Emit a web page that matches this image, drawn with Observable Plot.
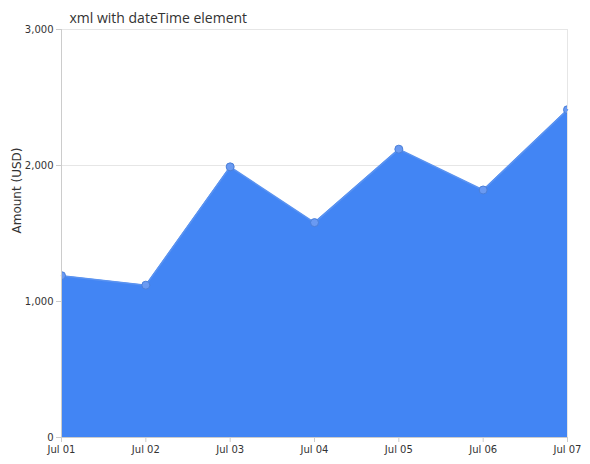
<!DOCTYPE html>
<html>
<head>
<meta charset="utf-8">
<script src="https://cdn.jsdelivr.net/npm/d3@7"></script>
<script src="https://cdn.jsdelivr.net/npm/@observablehq/plot@0.6"></script>
<style>
  html, body { margin: 0; padding: 0; background: #fff; }
  #chart svg { display: block; }
</style>
</head>
<body>
<div id="chart"></div>
<script>
// Daily amounts (USD), one per day in early July
const days = ["2011-07-01", "2011-07-02", "2011-07-03", "2011-07-04", "2011-07-05", "2011-07-06", "2011-07-07"];
const amounts = [1190, 1120, 1990, 1580, 2120, 1820, 2410];
const yTicks = [0, 1000, 2000, 3000];
const title = "xml with dateTime element";
const yLabel = "Amount (USD)";

const data = days.map((d, i) => ({date: new Date(d + "T00:00:00Z"), amount: amounts[i]}));
const xDomain = [data[0].date, data[data.length - 1].date];

const chart = Plot.plot({
  width: 590,
  height: 464,
  marginTop: 29,
  marginBottom: 27,
  marginLeft: 61,
  marginRight: 23,
  style: {fontFamily: "DejaVu Sans, Verdana, sans-serif", fontSize: "10px", color: "#333", background: "#fff"},
  x: {type: "utc", domain: xDomain, label: null},
  y: {domain: [0, 3000], label: null},
  marks: [
    // horizontal gridlines
    Plot.ruleY(yTicks.slice(1), {stroke: "#e6e6e6", strokeWidth: 1}),
    // right frame edge
    Plot.ruleX([xDomain[1]], {stroke: "#e6e6e6"}),
    Plot.areaY(data, {x: "date", y: "amount", fill: "#4285f4", fillOpacity: 1}),
    Plot.lineY(data, {x: "date", y: "amount", stroke: "#5b93f0", strokeWidth: 1.5}),
    Plot.dot(data, {x: "date", y: "amount", r: 4, fill: "#6a9af2", stroke: "#4a7fd8", strokeWidth: 1, clip: true}),
    // axes
    Plot.ruleY([0], {stroke: "#ccc"}),
    Plot.ruleX([xDomain[0]], {stroke: "#ccc"}),
    Plot.axisX({
      ticks: data.map(d => d.date),
      tickFormat: d3.utcFormat("%b %d"),
      tickSize: 5,
      tickPadding: 3,
      stroke: "#ccc",
      fill: "#333",
      label: null
    }),
    Plot.axisY({
      ticks: yTicks,
      tickFormat: d3.format(","),
      tickSize: 5,
      tickPadding: 3,
      stroke: "#ccc",
      fill: "#333",
      label: null
    }),
    // y axis title
    Plot.text([yLabel], {
      frameAnchor: "left",
      dx: -44,
      rotate: -90,
      fontSize: 12,
      fill: "#333"
    }),
    // chart title
    Plot.text([title], {
      frameAnchor: "top-left",
      dx: 8,
      dy: -7,
      lineAnchor: "bottom",
      textAnchor: "start",
      fontFamily: "Open Sans, sans-serif",
      fontSize: 14,
      fill: "#333"
    })
  ]
});

document.getElementById("chart").appendChild(chart);
</script>
</body>
</html>
